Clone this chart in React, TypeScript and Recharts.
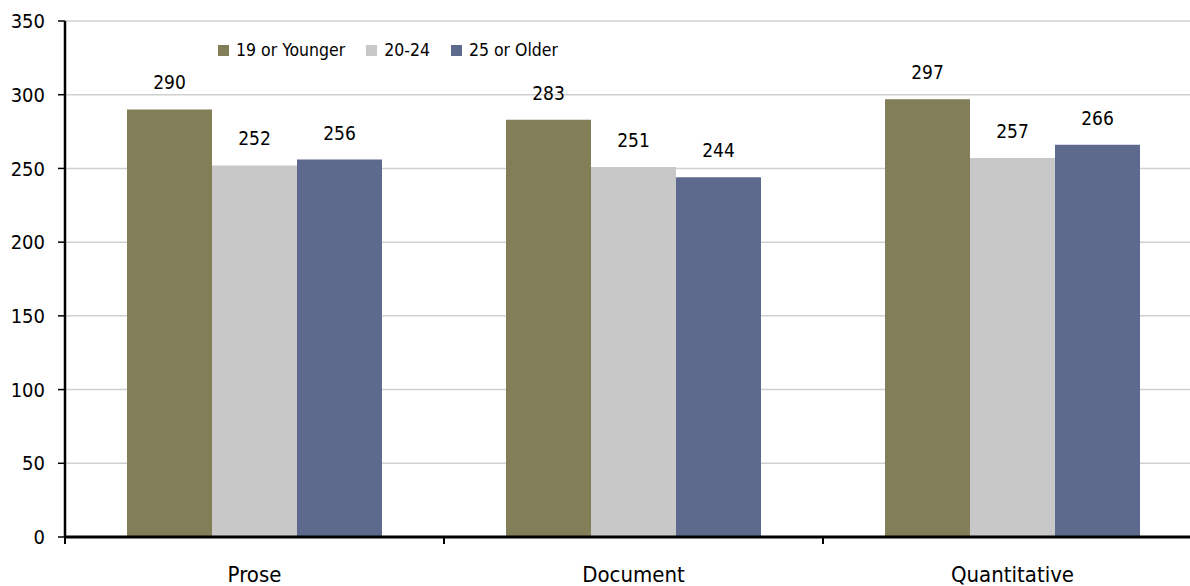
import { Bar, BarChart, CartesianGrid, LabelList, Legend, XAxis, YAxis } from "recharts";

const categories = ["Prose", "Document", "Quantitative"];
const youngest = [290, 283, 297];
const middle = [252, 251, 257];
const oldest = [256, 244, 266];
const yTicks = [0, 50, 100, 150, 200, 250, 300, 350];

const series = [
  { key: "youngest", name: "19 or Younger", color: "#817E58" },
  { key: "middle", name: "20-24", color: "#C8C8C8" },
  { key: "oldest", name: "25 or Older", color: "#5D6A8E" },
];

const data = categories.map((category, i) => ({
  category,
  youngest: youngest[i],
  middle: middle[i],
  oldest: oldest[i],
}));

const FONT = "'Liberation Sans Narrow', 'DejaVu Sans Condensed', 'Liberation Sans', sans-serif";

// category label centred in its band, with a short tick at the band's left edge
function CategoryTick(props: any) {
  const { x, y, payload, width } = props;
  const half = (width ?? 1137) / categories.length / 2;
  return (
    <g>
      <line x1={x - half} x2={x - half} y1={y} y2={y + 7} stroke="#000" strokeWidth={2} />
      <text x={x} y={y + 45} textAnchor="middle" fontSize={22} fill="#000" fontFamily={FONT}>
        {payload.value}
      </text>
    </g>
  );
}

function LegendRow() {
  return (
    <div style={{ display: "flex", alignItems: "center", fontFamily: FONT, fontSize: 17.5, color: "#000" }}>
      {series.map((s) => (
        <div key={s.key} style={{ display: "flex", alignItems: "center", marginRight: 21 }}>
          <span style={{ width: 11, height: 11, background: s.color, marginRight: 7, display: "inline-block" }} />
          <span>{s.name}</span>
        </div>
      ))}
    </div>
  );
}

export default function App() {
  return (
    <div
      style={{
        position: "fixed",
        left: 0,
        top: 0,
        width: 1190,
        height: 586,
        overflow: "hidden",
        background: "#fff",
      }}
    >
      <BarChart
        width={1210}
        height={586}
        data={data}
        margin={{ top: 21, right: 8, bottom: 0, left: 0 }}
        barGap={0}
        barSize={85}
      >
        <CartesianGrid vertical={false} stroke="#D0D0D0" strokeWidth={1.5} />
        <XAxis
          dataKey="category"
          height={49}
          tickLine={false}
          tickSize={0}
          tickMargin={0}
          axisLine={{ stroke: "#000", strokeWidth: 3 }}
          tick={<CategoryTick />}
          interval={0}
        />
        <YAxis
          width={65}
          domain={[0, 350]}
          ticks={yTicks}
          interval={0}
          tickSize={7}
          tickMargin={13}
          axisLine={{ stroke: "#000", strokeWidth: 2.5 }}
          tickLine={{ stroke: "#000", strokeWidth: 1.5 }}
          tick={{ fill: "#000", fontSize: 20, fontFamily: FONT }}
        />
        <Legend
          layout="horizontal"
          verticalAlign="middle"
          align="center"
          content={<LegendRow />}
          wrapperStyle={{ top: 40, left: 218, width: "auto", height: "auto" }}
        />
        {series.map((s) => (
          <Bar key={s.key} dataKey={s.key} name={s.name} fill={s.color} isAnimationActive={false}>
            <LabelList
              dataKey={s.key}
              position="top"
              offset={20}
              fill="#000"
              fontSize={19}
              fontFamily={FONT}
            />
          </Bar>
        ))}
      </BarChart>
    </div>
  );
}
